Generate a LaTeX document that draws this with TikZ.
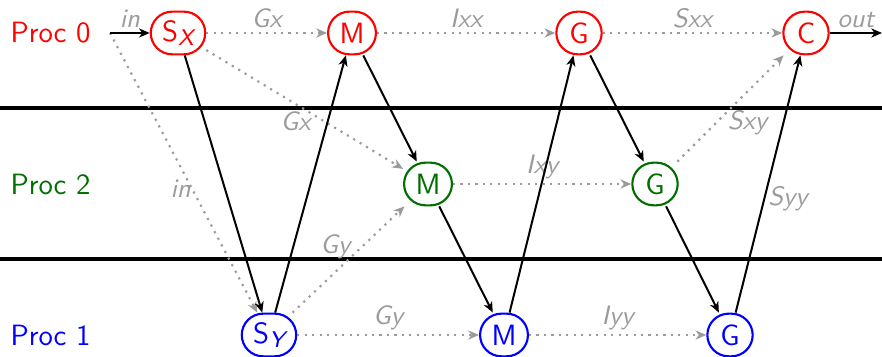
\documentclass[tikz,border=0pt]{standalone}
\usetikzlibrary{arrows.meta}
\definecolor{lg}{RGB}{155,155,155}
\definecolor{dg}{RGB}{0,110,0}
\newcommand\subx[1]{\raisebox{-0.35ex}{\fontsize{8.5}{8.5}\selectfont\itshape #1}}
\begin{document}
\begin{tikzpicture}[x=0.375pt,y=-0.375pt,
  font=\sffamily\fontsize{11}{13}\selectfont,
  >={Stealth[length=4pt,width=3.4pt,inset=1.2pt]},
  nd/.style={draw, line width=0.8pt, rounded corners=8pt, minimum height=16pt, minimum width=17pt, inner xsep=4.3pt, inner ysep=2pt},
  flow/.style={->, line width=0.75pt},
  msg/.style={->, lg, dotted, line width=0.8pt},
  lab/.style={text=lg, font=\sffamily\itshape\fontsize{10}{12}\selectfont, inner sep=1.5pt},
  lane/.style={line width=1.2pt}]
\useasboundingbox (0,0) rectangle (882,357);
\draw[lane] (0,108) -- (882,108);
\draw[lane] (0,259) -- (882,259);
% process labels
\node[red, anchor=west, inner xsep=0pt] (p0) at (10,33) {Proc 0};
\node[dg, anchor=west, inner xsep=0pt] (p2) at (10,184) {Proc 2};
\node[blue, anchor=west, inner xsep=0pt] (p1) at (10,335) {Proc 1};
% nodes
\node[nd, red] (sx) at (178,33) {S\subx{X}};
\node[nd, red] (m0) at (352,33) {M};
\node[nd, red] (g0) at (579,33) {G};
\node[nd, red] (c0) at (806,33) {C};
\node[nd, dg] (m2) at (428,184) {M};
\node[nd, dg] (g2) at (655,184) {G};
\node[nd, blue] (sy) at (269,335) {S\subx{Y}};
\node[nd, blue] (m1) at (504,335) {M};
\node[nd, blue] (g1) at (730,335) {G};
\coordinate (in) at (110,33);
\coordinate (out) at (882,33);
% dotted messages
\draw[msg] (in) -- node[lab, pos=0.5, xshift=-1.1pt, yshift=-6pt]{in} (sy);
\draw[msg] (sx) -- node[lab, above]{Gx} (m0);
\draw[msg] (sx) -- node[lab, xshift=-3.4pt, yshift=-4.5pt]{Gx} (m2);
\draw[msg] (sy) -- node[lab, xshift=-4.9pt, yshift=4.9pt]{Gy} (m2);
\draw[msg] (sy) -- node[lab, above]{Gy} (m1);
\draw[msg] (m0) -- node[lab, above]{Ixx} (g0);
\draw[msg] (m2) -- node[lab, above]{Ixy} (g2);
\draw[msg] (m1) -- node[lab, above]{Iyy} (g1);
\draw[msg] (g0) -- node[lab, above]{Sxx} (c0);
\draw[msg] (g2) -- node[lab, xshift=6.4pt, yshift=-5.25pt]{Sxy} (c0);
% solid flow
\draw[flow] (in) -- node[lab, above]{in} (sx);
\draw[flow] (c0) -- node[lab, above]{out} (out);
\draw[flow] (sx) -- (sy);
\draw[flow] (sy) -- (m0);
\draw[flow] (m0) -- (m2);
\draw[flow] (m2) -- (m1);
\draw[flow] (m1) -- (g0);
\draw[flow] (g0) -- (g2);
\draw[flow] (g2) -- (g1);
\draw[flow] (g1) -- node[lab, xshift=7.5pt, yshift=-5.6pt]{Syy} (c0);
\end{tikzpicture}
\end{document}
